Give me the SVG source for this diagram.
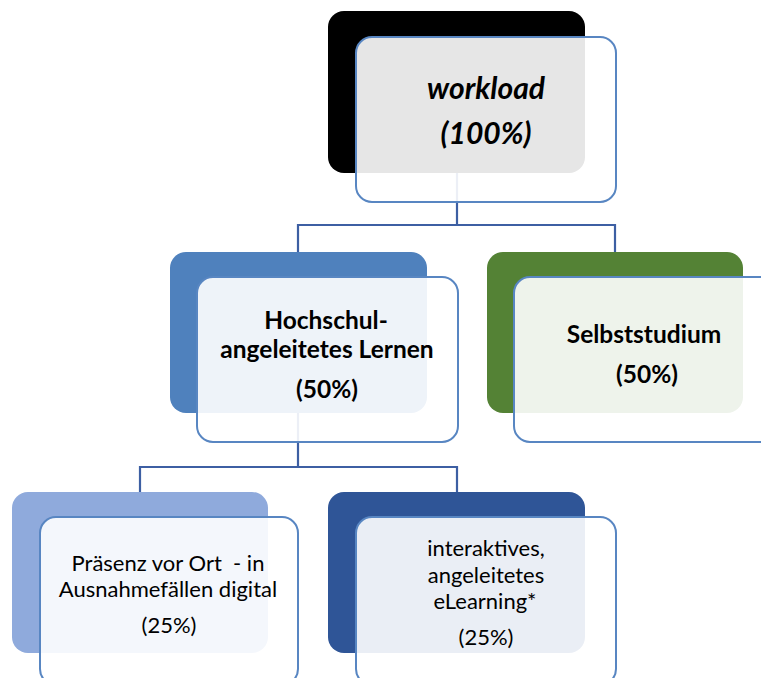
<svg xmlns="http://www.w3.org/2000/svg" width="761" height="678" viewBox="0 0 761 678">
<style>
.bg{stroke:none}
.ov{fill:#ffffff;fill-opacity:0.9;stroke:#5886c2;stroke-width:2}
.cn{fill:none;stroke:#3d5fa3;stroke-width:2.2}
text{font-family:Lato,"Open Sans","Liberation Sans",sans-serif;fill:#000;text-anchor:middle}
.b{font-weight:bold;font-size:24.5px}
.r{font-size:22px;white-space:pre}
.w{font-weight:bold;font-style:italic;font-size:30px}
</style>
<rect width="761" height="678" fill="#ffffff"/>
<g id="connectors">
<path class="cn" d="M457 173 V225 M298 225 H616 M298 224 V252 M615 224 V252"/>
<path class="cn" d="M298 413 V467 M139 467 H457 M140 466 V492 M457 466 V492"/>
</g>
<g id="node-workload">
<rect class="bg" x="328" y="11" width="257" height="162" rx="16" fill="#000000"/>
<rect class="ov" x="356" y="37" width="260" height="165" rx="16"/>
<text class="w" x="486" y="99">workload</text>
<text class="w" x="486" y="144">(100%)</text>
</g>
<g id="node-hochschul">
<rect class="bg" x="170" y="252" width="257" height="161" rx="16" fill="#4f81bd"/>
<rect class="ov" x="197" y="277" width="261" height="165" rx="16"/>
<text class="b" x="326" y="329">Hochschul-</text>
<text class="b" x="327" y="358">angeleitetes Lernen</text>
<text class="b" x="327" y="398">(50%)</text>
</g>
<g id="node-selbststudium">
<rect class="bg" x="487" y="252" width="256" height="161" rx="16" fill="#548235"/>
<rect class="ov" x="514" y="277" width="262" height="165" rx="16"/>
<text class="b" x="644" y="343">Selbststudium</text>
<text class="b" x="647" y="383">(50%)</text>
</g>
<g id="node-praesenz">
<rect class="bg" x="12" y="492" width="256" height="161" rx="16" fill="#8faadc"/>
<rect class="ov" x="40" y="517" width="258" height="168" rx="16"/>
<text class="r" x="168" y="571" xml:space="preserve">Präsenz vor Ort  - in</text>
<text class="r" x="168" y="597">Ausnahmefällen digital</text>
<text class="r" x="169" y="633">(25%)</text>
</g>
<g id="node-elearning">
<rect class="bg" x="328" y="492" width="257" height="161" rx="16" fill="#2f5597"/>
<rect class="ov" x="356" y="517" width="260" height="168" rx="16"/>
<text class="r" x="486" y="556">interaktives,</text>
<text class="r" x="486" y="583">angeleitetes</text>
<text class="r" x="485" y="609">eLearning*</text>
<text class="r" x="486" y="645">(25%)</text>
</g>
</svg>
